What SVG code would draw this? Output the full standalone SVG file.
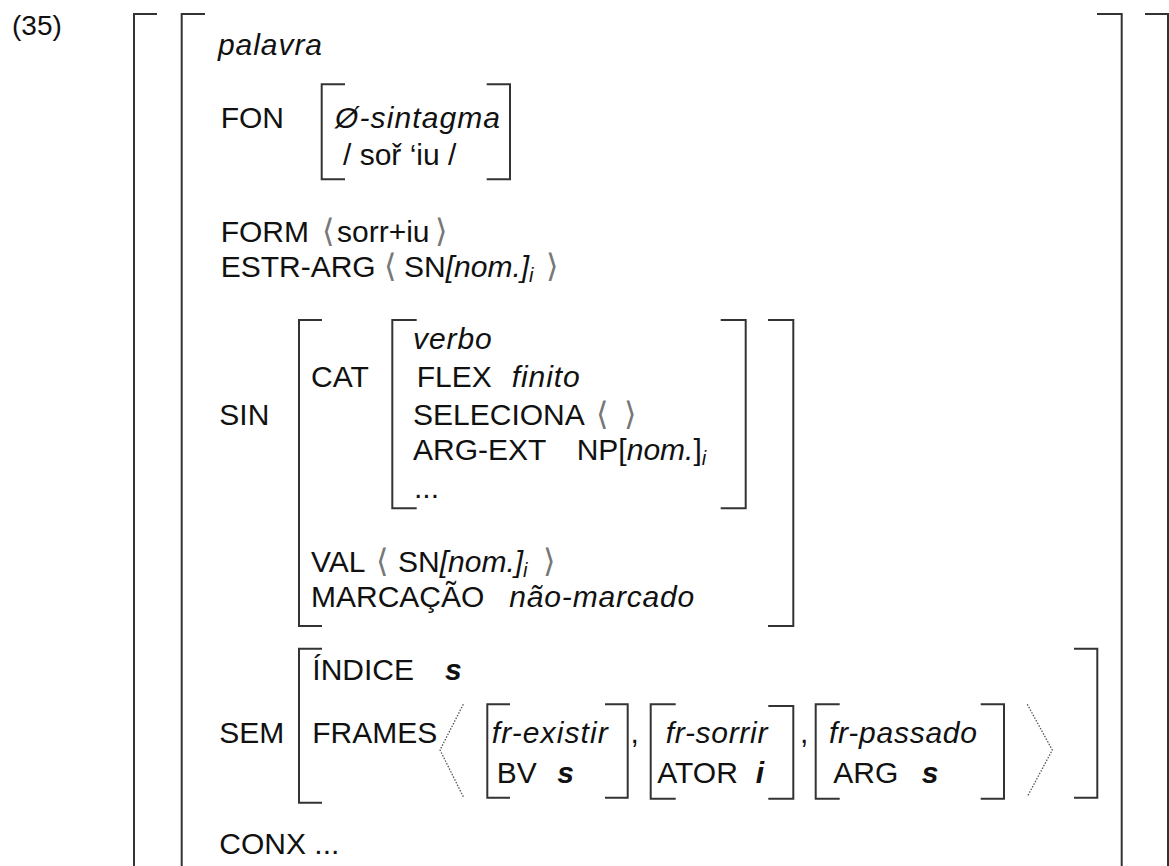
<svg xmlns="http://www.w3.org/2000/svg" width="1169" height="866" viewBox="0 0 1169 866">
<style>
  text { font-family: "Liberation Sans", Arial, sans-serif; font-size: 30px; fill: #111; }
  .it { font-style: italic; }
  .bi { font-style: italic; font-weight: bold; }
  .ang { font-family: "DejaVu Sans", sans-serif; font-weight: normal; font-style: normal; fill: #777; font-size: 32px; }
  .sub { font-style: italic; font-size: 20px; }
  .br { fill: none; stroke: #333; stroke-width: 2; }
  .dot { fill: none; stroke: #555; stroke-width: 1.3; stroke-dasharray: 1.5 1.5; }
</style>
<rect width="1169" height="866" fill="#fff"/>

<g id="label"><text x="12" y="35" style="font-size:28px">(35)</text></g>

<g id="outer-brackets">
  <path class="br" d="M157 14 H134 V870"/>
  <path class="br" d="M205 14 H181.7 V870"/>
  <path class="br" d="M1097 14 H1121.7 V870"/>
  <path class="br" d="M1145 14 H1168 V870"/>
</g>

<g id="palavra"><text class="it" x="218" y="55" textLength="104" lengthAdjust="spacing">palavra</text></g>

<g id="fon">
  <text x="220.7" y="127.7">FON</text>
  <path class="br" d="M345 84.3 H321.7 V179.3 H345"/>
  <path class="br" d="M486.7 84.3 H510 V179.3 H486.7"/>
  <text class="it" x="335" y="127.7" textLength="165" lengthAdjust="spacing">Ø-sintagma</text>
  <text x="343" y="165">/ soř ‘iu /</text>
</g>

<g id="form">
  <text x="220.7" y="241.7">FORM</text>
  <text class="ang" x="322" y="241.7">⟨</text>
  <text x="337" y="241.7">sorr+iu</text>
  <text class="ang" x="435" y="241.7">⟩</text>
</g>

<g id="estr-arg">
  <text x="220.7" y="277">ESTR-ARG</text>
  <text class="ang" x="384" y="277">⟨</text>
  <text x="404" y="277">SN<tspan class="it">[nom.]</tspan><tspan class="sub" dy="5">i</tspan></text>
  <text class="ang" x="546" y="277">⟩</text>
</g>

<g id="sin">
  <text x="219.3" y="425">SIN</text>
  <path class="br" d="M322 320 H299 V626 H322"/>
  <path class="br" d="M768 320 H793.3 V626 H768"/>
  <g id="cat">
    <text x="311" y="386.5">CAT</text>
    <path class="br" d="M416.7 320 H392.3 V508.3 H416.7"/>
    <path class="br" d="M720.7 320 H745.7 V508.3 H720.7"/>
    <text class="it" x="413" y="349.3" textLength="78.7" lengthAdjust="spacing">verbo</text>
    <text x="416.7" y="386.5">FLEX</text>
    <text class="it" x="511.7" y="386.5" textLength="68" lengthAdjust="spacing">finito</text>
    <text x="413" y="425">SELECIONA</text>
    <text class="ang" x="596" y="425">⟨</text>
    <text class="ang" x="624" y="425">⟩</text>
    <text x="413" y="460">ARG-EXT</text>
    <text x="576.7" y="460">NP[<tspan class="it">nom.</tspan>]<tspan class="sub" dy="5">i</tspan></text>
    <text x="414" y="498">...</text>
  </g>
  <text x="311" y="571.7">VAL</text>
  <text class="ang" x="376" y="571.7">⟨</text>
  <text x="398" y="571.7">SN<tspan class="it">[nom.]</tspan><tspan class="sub" dy="5">i</tspan></text>
  <text class="ang" x="543" y="571.7">⟩</text>
  <text x="311" y="606.7">MARCAÇÃO</text>
  <text class="it" x="509.3" y="606.7" textLength="185" lengthAdjust="spacing">não-marcado</text>
</g>

<g id="sem">
  <text x="219.3" y="742.7">SEM</text>
  <path class="br" d="M322 648.7 H299 V802.7 H322"/>
  <path class="br" d="M1074 648.7 H1097.3 V797.7 H1074"/>
  <text x="312.3" y="680">ÍNDICE</text>
  <text class="bi" x="445" y="680">s</text>
  <text x="312.3" y="742.7">FRAMES</text>
  <polyline class="dot" points="463.3,704.3 440,750 463.3,796.7"/>
  <polyline class="dot" points="1027.3,704.3 1052.3,750 1027.3,796.7"/>
  <g id="fr-existir">
    <path class="br" d="M510 704.3 H487.3 V797.7 H510"/>
    <path class="br" d="M605 704.3 H627.7 V797.7 H605"/>
    <text class="it" x="491.7" y="742.7" textLength="116" lengthAdjust="spacing">fr-existir</text>
    <text x="496.7" y="782.7">BV</text>
    <text class="bi" x="557.3" y="782.7">s</text>
  </g>
  <text x="630.5" y="742.7">,</text>
  <g id="fr-sorrir">
    <path class="br" d="M675.7 704.3 H650.7 V798.7 H675.7"/>
    <path class="br" d="M768.3 706 H793.3 V798.7 H768.3"/>
    <text class="it" x="665.7" y="742.7" textLength="101.7" lengthAdjust="spacing">fr-sorrir</text>
    <text x="657.3" y="782.7">ATOR</text>
    <text class="bi" x="755.7" y="782.7">i</text>
  </g>
  <text x="800" y="742.7">,</text>
  <g id="fr-passado">
    <path class="br" d="M839.7 704.3 H815.7 V798.7 H839.7"/>
    <path class="br" d="M980.7 704.3 H1004 V798.7 H980.7"/>
    <text class="it" x="829" y="742.7" textLength="148" lengthAdjust="spacing">fr-passado</text>
    <text x="833.3" y="782.7">ARG</text>
    <text class="bi" x="921.7" y="782.7">s</text>
  </g>
</g>

<g id="conx"><text x="219.3" y="854.3">CONX ...</text></g>
</svg>
